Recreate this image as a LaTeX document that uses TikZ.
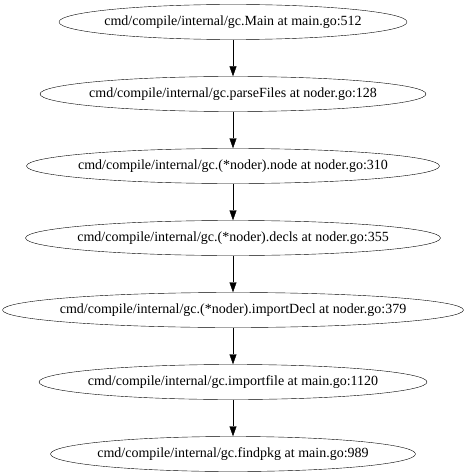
\documentclass[tikz,border=0pt]{standalone}
\usepackage{fontspec}
\setmainfont{Liberation Serif}
\usepackage{tikz}
\usetikzlibrary{shapes.geometric, arrows.meta, positioning}

\begin{document}
\begin{tikzpicture}[x=1pt, y=-1pt,
    fn/.style={draw, ellipse, inner xsep=-80pt, inner ysep=0pt, minimum height=35pt, font=\fontsize{14}{16}\selectfont},
    call/.style={-{Triangle[length=10pt, width=7pt]}, thin}
]
    \useasboundingbox (0,0) rectangle (466,476);
    % call chain
    \node[fn, minimum width=348pt] at (233,22) (main) {cmd/compile/internal/gc.Main at main.go:512};
    \node[fn, minimum width=386pt] at (233,94) (parse) {cmd/compile/internal/gc.parseFiles at noder.go:128};
    \node[fn, minimum width=413pt] at (233,166) (noder) {cmd/compile/internal/gc.(*noder).node at noder.go:310};
    \node[fn, minimum width=415pt] at (233,238) (decls) {cmd/compile/internal/gc.(*noder).decls at noder.go:355};
    \node[fn, minimum width=461pt] at (233,310) (impdecl) {cmd/compile/internal/gc.(*noder).importDecl at noder.go:379};
    \node[fn, minimum width=388pt] at (233,382) (impfile) {cmd/compile/internal/gc.importfile at main.go:1120};
    \node[fn, minimum width=365pt] at (233,454) (findpkg) {cmd/compile/internal/gc.findpkg at main.go:989};
    \draw[call] (main) -- (parse);
    \draw[call] (parse) -- (noder);
    \draw[call] (noder) -- (decls);
    \draw[call] (decls) -- (impdecl);
    \draw[call] (impdecl) -- (impfile);
    \draw[call] (impfile) -- (findpkg);
\end{tikzpicture}
\end{document}
